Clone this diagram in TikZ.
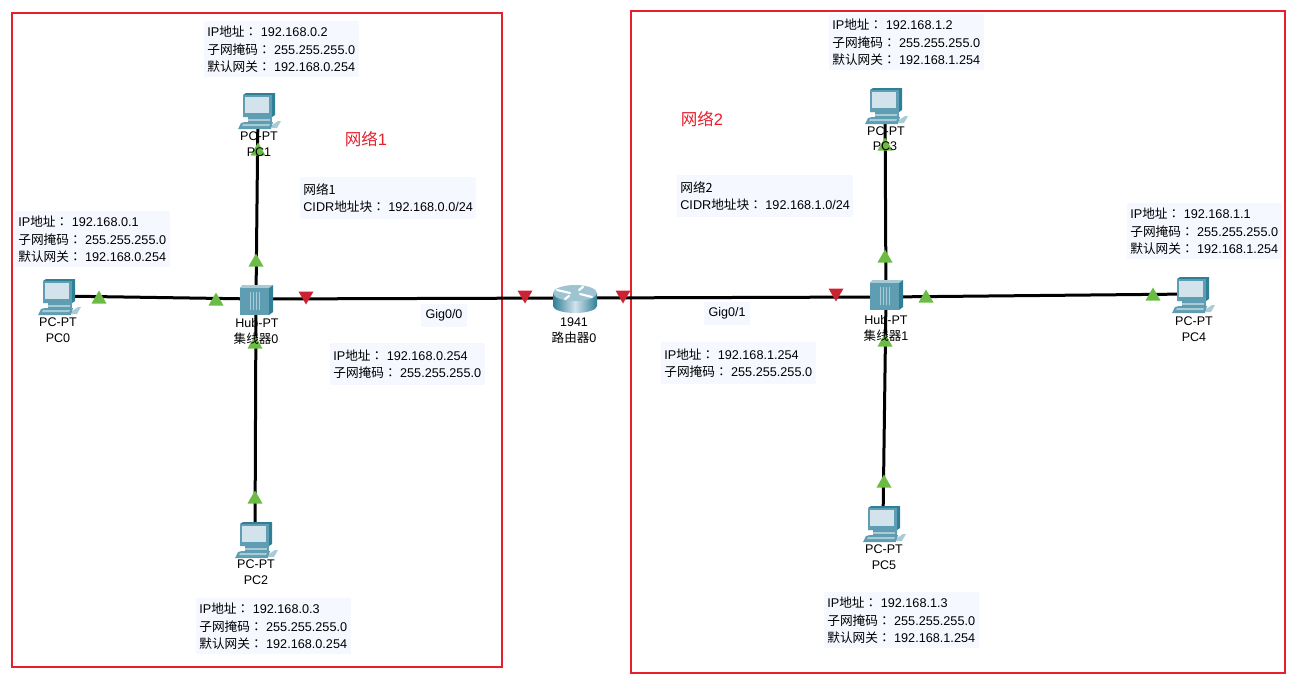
\documentclass[tikz,border=0pt]{standalone}
\usepackage{fontspec}
\setmainfont{Liberation Sans}
\newfontfamily\cjkf{Noto Sans CJK SC}
\newfontfamily\cjkcolon{Noto Sans CJK TC}
\newcommand{\cn}[1]{{\cjkf #1}}
\newcommand{\ccolon}{{\cjkcolon ：}\kern2.6pt }
\newcommand{\ipinfo}[3]{IP\cn{地址}\ccolon #1\\\cn{子网掩码}\ccolon #2\\\cn{默认网关}\ccolon #3}
\newcommand{\gwinfo}[1]{IP\cn{地址}\ccolon #1\\\cn{子网掩码}\ccolon 255.255.255.0}
\newcommand{\netinfo}[2]{\cn{网络#1}\\CIDR\cn{地址块}\ccolon #2}
\definecolor{boxred}{HTML}{E81E2D}
\definecolor{infobg}{HTML}{F6F8FF}
\definecolor{linkgreen}{HTML}{6CBB45}
\definecolor{linkred}{HTML}{CC2233}
\definecolor{devdark}{HTML}{2F7F97}
\definecolor{devmid}{HTML}{5F9DB3}
\definecolor{devlight}{HTML}{A9CBD6}
\definecolor{devscreen}{HTML}{D3E3EB}
\tikzset{
  x=.75pt,y=-.75pt,
  region/.style={draw=boxred,line width=1.5pt},
  link/.style={draw=black,line width=2.25pt},
  dev/.style={inner sep=0pt,minimum size=6pt},
  lbl/.style={font=\fontsize{9.4}{11}\selectfont,inner sep=0pt,text=black},
  gig/.style={lbl,fill=infobg,minimum width=34.5pt,minimum height=17.25pt},
  info/.style={anchor=north west,fill=infobg,inner ysep=0pt,inner xsep=2.3pt,align=left,font=\fontsize{9.5}{13}\selectfont},
  info3/.style={info,text width=111.6pt,minimum height=42pt},
  info2/.style={info,text width=111.6pt,minimum height=31.5pt},
  infonet/.style={info,text width=127.4pt,minimum height=31.5pt},
  netlbl/.style={inner sep=0pt,text=boxred,font=\fontsize{12.4}{14}\selectfont},
  up/.pic={\fill[linkgreen] (-7.5,6.5)--(7.5,6.5)--(0,-6.5)--cycle;},
  down/.pic={\fill[linkred] (-7.5,-6.5)--(7.5,-6.5)--(0,6.5)--cycle;},
  pcicon/.pic={
    \fill[devdark] (-15,-13)--(-12,-15)--(17,-15)--(17,7)--(14,9)--(-15,9)--cycle;
    \fill[devmid] (-15,-13)--(14,-13)--(14,9)--(-15,9)--cycle;
    \fill[devscreen] (-13,-11)--(11,-11)--(11,5)--(-13,5)--cycle;
    \fill[devmid] (-10,9) rectangle (14,14);
    \fill[devlight] (-10,11) rectangle (12,12.5);
    \fill[devmid] (-17,15)--(-13,14)--(15,14)--(13,21)--(-20,21)--cycle;
    \fill[devlight] (-15,16)--(12,16)--(11,18)--(-16,18)--cycle;
    \fill[devlight] (14,17)--(20,13)--(23,13)--(19,20)--(14,20)--cycle;
  },
  hubicon/.pic={
    \fill[devdark] (-16,-11)--(-13,-14)--(17,-14)--(17,13)--(13,16)--(13,-11)--cycle;
    \fill[devlight] (-16,-11)--(-13,-14)--(17,-14)--(13,-11)--cycle;
    \fill[devmid] (-16,-11) rectangle (13,16);
    \foreach \u in {-6,-3,0,3} \fill[devlight] (\u,-7) rectangle (\u+1,11);
  },
  routericon/.pic={
    \shade[left color=devdark,right color=devdark,middle color=devscreen]
      (-22,-5)--(-22,8) arc[start angle=180,end angle=0,x radius=22,y radius=7]--(22,-5)--cycle;
    \fill[devlight!85!devmid] (0,-5) ellipse[x radius=22,y radius=8];
    \draw[white,line width=1.6pt,line cap=round] (-18,-8)--(-5,-5) (5,-4)--(17,-1) (-6,-2)--(-10,1) (8,-11)--(4,-8);
  }
}
\begin{document}
\begin{tikzpicture}
\useasboundingbox (0,0) rectangle (1313,682);
% regions
\draw[region] (12,13) rectangle (502,667);
\draw[region] (631,11) rectangle (1285,673);
% device anchors
\node[dev] (pc0) at (58,296) {};
\node[dev] (pc1) at (258,108) {};
\node[dev] (pc2) at (255,540) {};
\node[dev] (pc3) at (885,105) {};
\node[dev] (pc4) at (1192,294) {};
\node[dev] (pc5) at (883,522) {};
\node[dev] (hub0) at (256,299) {};
\node[dev] (hub1) at (886,297) {};
\node[dev] (rt) at (575,298) {};
% links
\draw[link] (pc0.center)--(hub0.center);
\draw[link] (pc1.center)--(hub0.center);
\draw[link] (pc2.center)--(hub0.center);
\draw[link] (hub0.center)--(rt.center);
\draw[link] (rt.center)--(hub1.center);
\draw[link] (pc3.center)--(hub1.center);
\draw[link] (pc4.center)--(hub1.center);
\draw[link] (pc5.center)--(hub1.center);
% icons
\pic[yshift=1.5pt] at (pc0.center) {pcicon};
\pic at (pc1.center) {pcicon};
\pic[yshift=2.25pt] at (pc2.center) {pcicon};
\pic[yshift=1.5pt] at (pc3.center) {pcicon};
\pic[yshift=1.5pt] at (pc4.center) {pcicon};
\pic[yshift=.75pt] at (pc5.center) {pcicon};
\pic at (hub0.center) {hubicon};
\pic[yshift=2.25pt] at (hub1.center) {hubicon};
\pic at (rt.center) {routericon};
% link lights
\foreach \p in {(99,297),(216,299),(256,260),(255,497),(255,342),(258,149),(926,296),(1153,294),(885,256),(884,481),(885,340),(885,144)}
  \pic at \p {up};
\foreach \p in {(306,298),(525,297),(623,297),(836,295)}
  \pic at \p {down};
% device labels
\node[lbl] (l0a) at (58,322) {PC-PT};
\node[lbl] (l0b) at (58,338) {PC0};
\node[lbl] (l1a) at (259,136) {PC-PT};
\node[lbl] (l1b) at (259,152) {PC1};
\node[lbl] (l2a) at (256,564) {PC-PT};
\node[lbl] (l2b) at (256,580) {PC2};
\node[lbl] (l3a) at (886,131) {PC-PT};
\node[lbl] (l3b) at (885,146) {PC3};
\node[lbl] (l4a) at (1194,321) {PC-PT};
\node[lbl] (l4b) at (1194,337) {PC4};
\node[lbl] (l5a) at (884,549) {PC-PT};
\node[lbl] (l5b) at (884,565) {PC5};
\node[lbl] (lh0a) at (257,323) {Hub-PT};
\node[lbl] (lh0b) at (256,339) {\cn{集线器}0};
\node[lbl] (lh1a) at (886,320) {Hub-PT};
\node[lbl] (lh1b) at (886,336) {\cn{集线器}1};
\node[lbl] (lra) at (574,322) {1941};
\node[lbl] (lrb) at (574,338) {\cn{路由器}0};
\node[gig] (g0) at (444,315.5) {Gig0/0};
\node[gig] (g1) at (727,313.5) {Gig0/1};
% info boxes
\node[info3] (i1) at (204,21) {\ipinfo{192.168.0.2}{255.255.255.0}{192.168.0.254}};
\node[info3] (i0) at (15,211) {\ipinfo{192.168.0.1}{255.255.255.0}{192.168.0.254}};
\node[info3] (i2) at (196,598) {\ipinfo{192.168.0.3}{255.255.255.0}{192.168.0.254}};
\node[info3] (i3) at (829,14) {\ipinfo{192.168.1.2}{255.255.255.0}{192.168.1.254}};
\node[info3] (i4) at (1127,203) {\ipinfo{192.168.1.1}{255.255.255.0}{192.168.1.254}};
\node[info3] (i5) at (824,592) {\ipinfo{192.168.1.3}{255.255.255.0}{192.168.1.254}};
\node[info2] (ig0) at (330,343) {\gwinfo{192.168.0.254}};
\node[info2] (ig1) at (661,342) {\gwinfo{192.168.1.254}};
\node[infonet] (n1) at (300,177) {\netinfo{1}{192.168.0.0/24}};
\node[infonet] (n2) at (677,175) {\netinfo{2}{192.168.1.0/24}};
\node[netlbl] (t1) at (366,139) {\cn{网络}1};
\node[netlbl] (t2) at (702,119) {\cn{网络}2};
\end{tikzpicture}
\end{document}
